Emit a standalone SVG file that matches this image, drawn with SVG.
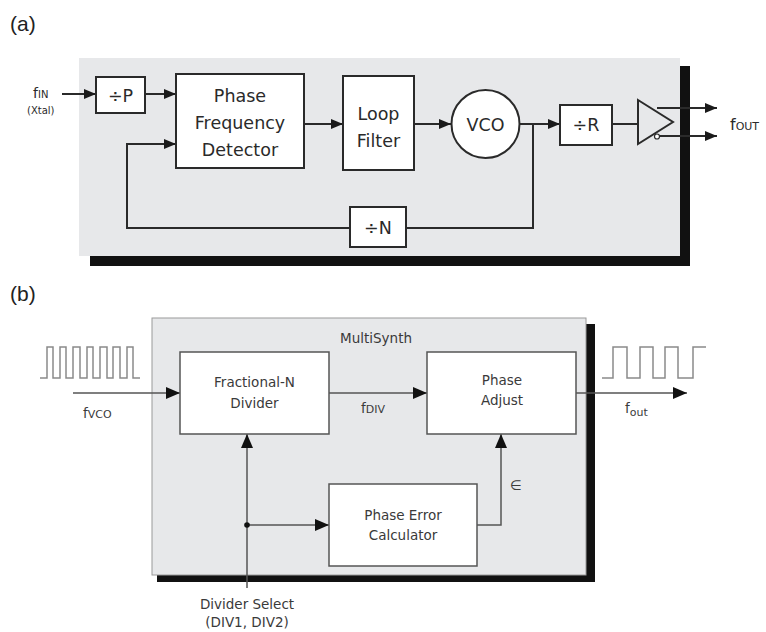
<svg xmlns="http://www.w3.org/2000/svg" width="766" height="632" viewBox="0 0 766 632">
<defs>
<style>
.t{font-family:"DejaVu Sans","Liberation Sans",sans-serif;fill:#2a2a2a}
.ta{font-size:17.5px}
.tb{font-size:13.5px;fill:#3a3a3a}
.lab{font-family:"Liberation Sans",Arial,sans-serif;font-size:21px;fill:#222}
.box{fill:#fff;stroke:#2a2a2a;stroke-width:2}
.boxb{fill:#fff;stroke:#555;stroke-width:1.5}
.wa{fill:none;stroke:#2a2a2a;stroke-width:2}
.wb{fill:none;stroke:#555;stroke-width:1.5}
.sq{fill:none;stroke:#8a8a8a;stroke-width:1.5}
</style>
<marker id="ah" markerUnits="userSpaceOnUse" markerWidth="12" markerHeight="10" refX="12" refY="5" orient="auto"><path d="M0,0 L12,5 L0,10 Z" fill="#1a1a1a"/></marker>
<marker id="bh" markerUnits="userSpaceOnUse" markerWidth="14" markerHeight="12" refX="14" refY="6" orient="auto"><path d="M0,0 L14,6 L0,12 Z" fill="#111"/></marker>
</defs>

<text class="lab" x="10" y="31">(a)</text>
<text class="lab" x="10" y="301">(b)</text>

<g id="panelA">
<rect x="90" y="66" width="600" height="200" fill="#111"/>
<rect x="79" y="58" width="601" height="198" fill="#e7e8ea"/>
</g>

<g id="connectorsA">
<line class="wa" x1="62" y1="94" x2="96" y2="94" marker-end="url(#ah)"/>
<line class="wa" x1="145" y1="94" x2="176" y2="94" marker-end="url(#ah)"/>
<line class="wa" x1="304" y1="124" x2="343" y2="124" marker-end="url(#ah)"/>
<line class="wa" x1="414" y1="124" x2="451" y2="124" marker-end="url(#ah)"/>
<line class="wa" x1="520" y1="124" x2="560" y2="124" marker-end="url(#ah)"/>
<polyline class="wa" points="533,124 533,228 406,228"/>
<polyline class="wa" points="350,228 127,228 127,144 176,144" marker-end="url(#ah)"/>
<line class="wa" x1="612" y1="124" x2="638" y2="124"/>
<line class="wa" x1="657" y1="108" x2="717" y2="108" marker-end="url(#ah)"/>
<line class="wa" x1="659" y1="136" x2="717" y2="136" marker-end="url(#ah)"/>
</g>

<g id="fin">
<text class="t" x="33" y="98" font-size="14">f<tspan font-size="10">IN</tspan></text>
<text class="t" x="27" y="114" font-size="10">(Xtal)</text>
</g>
<g id="divP"><rect class="box" x="96" y="77" width="49" height="36"/><text class="t ta" x="120.5" y="102" text-anchor="middle">÷P</text></g>
<g id="pfd"><rect class="box" x="176" y="74" width="128" height="94"/>
<text class="t ta" x="240" y="102" text-anchor="middle">Phase</text>
<text class="t ta" x="240" y="129" text-anchor="middle">Frequency</text>
<text class="t ta" x="240" y="156" text-anchor="middle">Detector</text></g>
<g id="loopFilter"><rect class="box" x="343" y="76" width="71" height="94"/>
<text class="t ta" x="378.5" y="120" text-anchor="middle">Loop</text>
<text class="t ta" x="378.5" y="147" text-anchor="middle">Filter</text></g>
<g id="vco"><circle cx="485.5" cy="124" r="34" fill="#fff" stroke="#2a2a2a" stroke-width="2"/>
<text class="t ta" x="485.5" y="131" text-anchor="middle">VCO</text></g>
<g id="divR"><rect class="box" x="560" y="105" width="52" height="40"/><text class="t ta" x="586" y="131" text-anchor="middle">÷R</text></g>
<g id="divN"><rect class="box" x="350" y="207" width="56" height="40"/><text class="t ta" x="378" y="234" text-anchor="middle">÷N</text></g>
<g id="buffer"><polygon points="638,100 673,122 638,144" fill="none" stroke="#2a2a2a" stroke-width="2"/>
<circle cx="657" cy="136.5" r="2.5" fill="#fff" stroke="#2a2a2a" stroke-width="1.2"/></g>
<g id="fout"><text class="t" x="730" y="130" font-size="16">f<tspan font-size="11">OUT</tspan></text></g>

<g id="panelB">
<rect x="157" y="324" width="438" height="258" fill="#111"/>
<rect x="152" y="318" width="434" height="257" fill="#e7e8ea" stroke="#9a9a9a" stroke-width="1"/>
<text class="t tb" x="376" y="343" text-anchor="middle">MultiSynth</text>
</g>

<g id="waves">
<polyline class="sq" points="40,378 47,378 47,347 53,347 53,378 60,378 60,347 66,347 66,378 73,378 73,347 80,347 80,378 87,378 87,347 93,347 93,378 100,378 100,347 107,347 107,378 113,378 113,347 120,347 120,378 127,378 127,347 133,347 133,378 140,378"/>
<polyline class="sq" points="602,378 613,378 613,347 627,347 627,378 640,378 640,347 653,347 653,378 665,378 665,347 678,347 678,378 693,378 693,347 706,347"/>
</g>

<g id="connectorsB">
<line class="wb" x1="73" y1="393" x2="180" y2="393" marker-end="url(#bh)"/>
<line class="wb" x1="329" y1="393" x2="427" y2="393" marker-end="url(#bh)"/>
<line class="wb" x1="576" y1="393" x2="687" y2="393" marker-end="url(#bh)"/>
<line class="wb" x1="247" y1="588" x2="247" y2="434" marker-end="url(#bh)"/>
<line class="wb" x1="247" y1="525" x2="329" y2="525" marker-end="url(#bh)"/>
<polyline class="wb" points="477,525 501,525 501,434" marker-end="url(#bh)"/>
<circle cx="247" cy="525" r="2.8" fill="#111"/>
</g>

<g id="fracN"><rect class="boxb" x="180" y="352" width="149" height="82"/>
<text class="t tb" x="254.5" y="387" text-anchor="middle">Fractional-N</text>
<text class="t tb" x="254.5" y="408" text-anchor="middle">Divider</text></g>
<g id="phaseAdjust"><rect class="boxb" x="427" y="352" width="149" height="82"/>
<text class="t tb" x="502" y="385" text-anchor="middle">Phase</text>
<text class="t tb" x="502" y="405" text-anchor="middle">Adjust</text></g>
<g id="pec"><rect class="boxb" x="329" y="484" width="148" height="82"/>
<text class="t tb" x="403" y="520" text-anchor="middle">Phase Error</text>
<text class="t tb" x="403" y="540" text-anchor="middle">Calculator</text></g>

<g id="labelsB">
<text class="t tb" x="83" y="418">f<tspan font-size="11">VCO</tspan></text>
<text class="t tb" x="361" y="413">f<tspan font-size="11">DIV</tspan></text>
<text class="t tb" x="625" y="413">f<tspan font-size="11" dy="3">out</tspan></text>
<text class="t tb" x="516" y="490" text-anchor="middle">∈</text>
<text class="t tb" x="247" y="609" text-anchor="middle">Divider Select</text>
<text class="t tb" x="247" y="627" text-anchor="middle">(DIV1, DIV2)</text>
</g>
</svg>
